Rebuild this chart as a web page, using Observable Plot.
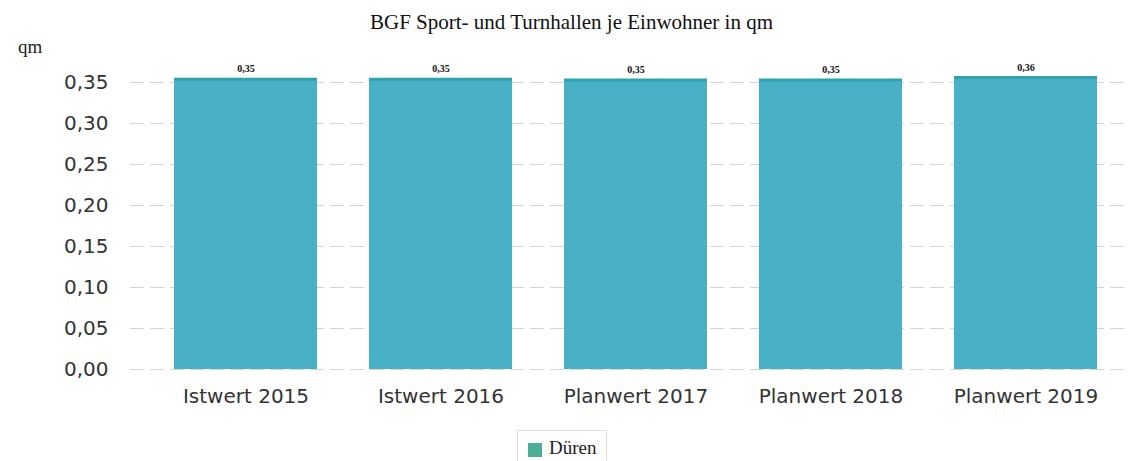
<!DOCTYPE html>
<html>
<head>
<meta charset="utf-8">
<script src="https://cdn.jsdelivr.net/npm/d3@7"></script>
<script src="https://cdn.jsdelivr.net/npm/@observablehq/plot@0.6"></script>
<style>
  html, body { margin: 0; padding: 0; background: #fff; width: 1142px; height: 461px; overflow: hidden; position: relative; }
  #title { height: 40px; line-height: 44px; text-align: center; font-family: "Liberation Serif", "DejaVu Serif", serif; font-size: 21px; color: #111; padding-left: 1px; }
  #unit { position: absolute; left: 18px; top: 36px; font-family: "Liberation Serif", serif; font-size: 19px; color: #222; }
  #legend { position: absolute; left: 517px; top: 430px; width: 90px; height: 31px; border: 1px solid #ddd; border-bottom: none; box-sizing: border-box; font-family: "Liberation Serif", serif; font-size: 19px; color: #222; }
  #legend .sw { position: absolute; left: 10px; top: 12px; width: 14px; height: 14px; background: #4aae98; }
  #legend .lb { position: absolute; left: 31px; top: 6px; }
</style>
</head>
<body>
<div id="title">BGF Sport- und Turnhallen je Einwohner in qm</div>
<div id="unit">qm</div>
<div id="chart"></div>
<div id="legend"><div class="sw"></div><div class="lb">Düren</div></div>
<script>
const categories = ["Istwert 2015", "Istwert 2016", "Planwert 2017", "Planwert 2018", "Planwert 2019"];
const values = [0.354, 0.354, 0.353, 0.353, 0.356];
const yTicks = [0, 0.05, 0.10, 0.15, 0.20, 0.25, 0.30, 0.35];
const seriesName = "Düren";

const data = categories.map((c, i) => ({category: c, value: values[i], series: seriesName}));
const fmt = v => v.toFixed(2).replace(".", ",");

const chart = Plot.plot({
  width: 1142,
  height: 380,
  marginTop: 42,
  marginBottom: 51,
  marginLeft: 130,
  marginRight: 14,
  style: {fontFamily: "DejaVu Sans, sans-serif", fontSize: "20px", color: "#333", background: "white"},
  x: {domain: categories, paddingInner: 0.265, paddingOuter: 0, insetLeft: 42, insetRight: 28, label: null},
  y: {domain: [0, 0.35], label: null},
  marks: [
    Plot.gridY(yTicks, {stroke: "#d4d4d4", strokeOpacity: 1, strokeDasharray: "14,6"}),
    Plot.barY(data, {x: "category", y: "value", fill: "#49b1c6"}),
    Plot.tickY(data, {x: "category", y: "value", stroke: "#2ea3ac", strokeWidth: 3}),
    Plot.text(data, {x: "category", y: "value", text: d => fmt(d.value), dy: -10, fontFamily: "Liberation Serif, serif", fontSize: 10, fontWeight: "bold", fill: "#111"}),
    Plot.axisY({ticks: yTicks, tickFormat: fmt, tickSize: 0, tickPadding: 22, fontSize: 20}),
    Plot.axisX({tickSize: 0, tickPadding: 19, fontSize: 20})
  ]
});
document.getElementById("chart").appendChild(chart);
</script>
</body>
</html>
